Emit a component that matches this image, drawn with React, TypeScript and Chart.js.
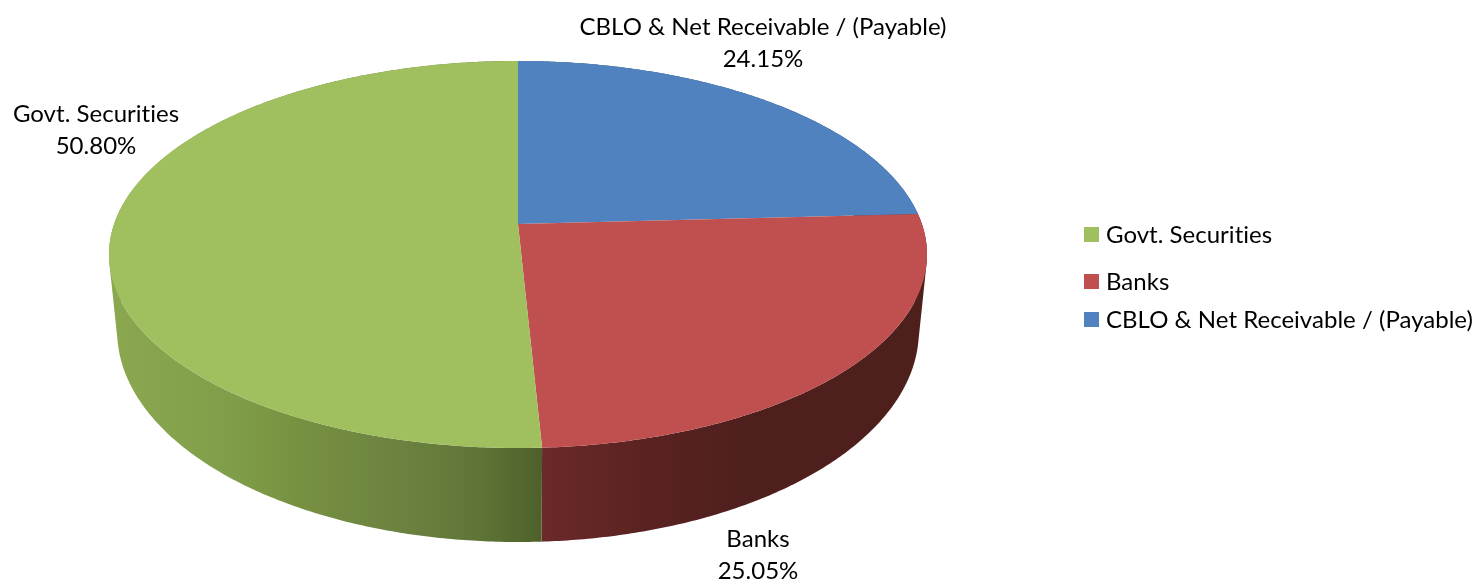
import React, { useEffect, useRef } from "react";
import { Chart, registerables } from "chart.js";

Chart.register(...registerables);

// Slices run clockwise from twelve o'clock; the legend lists them in reverse.
const categories = ["CBLO & Net Receivable / (Payable)", "Banks", "Govt. Securities"];
const shares = [24.15, 25.05, 50.8];
const topColors = ["#5082C0", "#C0504F", "#A0BF5E"];
const wallStops = [
  [[0, "#2f4d72"], [1, "#2f4d72"]],
  [[0.527, "#6C2A29"], [0.65, "#5A2322"], [0.79, "#4E1F1D"], [1, "#4E201C"]],
  [[0, "#8BA850"], [0.148, "#809E49"], [0.233, "#779141"], [0.356, "#6B8240"], [0.453, "#5E7536"], [0.527, "#4F612B"]],
];

// Where each slice caption and legend row sits, in the order of categories.
const captionCentres = [[763, 27], [758, 539], [96, 114]];
const legendRows = [320, 282, 235];

const FONT = '24px Lato, "Noto Sans", sans-serif';
const TILT = 0.1576; // perspective strength of the disc
const STRETCH_X = 2.478;
const STRETCH_Y = 1.1577;
const BASE_SCALE_X = 0.98;
const BASE_SCALE_Y = 1.0904;
const BASE_DROP = 73.75;
const STEP = Math.PI / 360;

type Pt = [number, number];

function rim(arc: any, angle: number): Pt {
  const d = 1 - TILT * Math.sin(angle);
  return [
    arc.x + (arc.outerRadius * STRETCH_X * Math.cos(angle)) / d,
    arc.y + (arc.outerRadius * STRETCH_Y * Math.sin(angle)) / d,
  ];
}

function baseRim(arc: any, angle: number): Pt {
  const [x, y] = rim(arc, angle);
  return [arc.x + (x - arc.x) * BASE_SCALE_X, arc.y + BASE_DROP + (y - arc.y) * BASE_SCALE_Y];
}

function sweep(arc: any): number[] {
  const out: number[] = [];
  for (let a = arc.startAngle; a < arc.endAngle; a += STEP) out.push(a);
  out.push(arc.endAngle);
  return out;
}

function signedArea(q: Pt[]): number {
  return q.reduce((sum, p, i) => {
    const n = q[(i + 1) % q.length];
    return sum + p[0] * n[1] - n[0] * p[1];
  }, 0);
}

// Paints the pie as a tilted, extruded disc from the arcs Chart.js has laid out.
const tiltedDisc = {
  id: "tiltedDisc",
  beforeDatasetDraw(chart: any) {
    const { ctx, chartArea } = chart;
    const arcs = chart.getDatasetMeta(0).data;

    arcs.forEach((arc: any, i: number) => {
      const angles = sweep(arc);
      const grad = ctx.createLinearGradient(chartArea.left, 0, chartArea.right, 0);
      wallStops[i].forEach(([p, c]: any) => grad.addColorStop(p, c));
      // The wall is one path of small quads wound the same way, so the fold at
      // the disc's left and right silhouette stays filled.
      ctx.beginPath();
      for (let n = 0; n + 1 < angles.length; n++) {
        const quad: Pt[] = [rim(arc, angles[n]), rim(arc, angles[n + 1]), baseRim(arc, angles[n + 1]), baseRim(arc, angles[n])];
        if (signedArea(quad) < 0) quad.reverse();
        quad.forEach(([x, y], k) => (k ? ctx.lineTo(x, y) : ctx.moveTo(x, y)));
        ctx.closePath();
      }
      ctx.fillStyle = grad;
      ctx.fill();
    });

    arcs.forEach((arc: any) => {
      ctx.beginPath();
      ctx.moveTo(arc.x, arc.y);
      sweep(arc).forEach((a) => {
        const [x, y] = rim(arc, a);
        ctx.lineTo(x, y);
      });
      ctx.closePath();
      ctx.fillStyle = arc.options.backgroundColor;
      ctx.fill();
    });
    return false;
  },
  afterDraw(chart: any) {
    const { ctx } = chart;
    const labels: string[] = chart.data.labels;
    const values: number[] = chart.data.datasets[0].data;
    ctx.save();
    ctx.font = FONT;
    ctx.letterSpacing = "0.02px"; // keeps "ti" as two separate glyphs
    ctx.fillStyle = "#000";
    ctx.textBaseline = "middle";

    ctx.textAlign = "center";
    labels.forEach((label, i) => {
      const [cx, cy] = captionCentres[i];
      ctx.fillText(label, cx, cy);
      ctx.fillText(`${values[i].toFixed(2)}%`, cx, cy + 32);
    });

    ctx.textAlign = "left";
    labels.forEach((label, i) => {
      const row = legendRows[i];
      ctx.fillStyle = topColors[i];
      ctx.fillRect(1084, row - 8, 15, 15);
      ctx.fillStyle = "#000";
      ctx.fillText(label, 1106, row);
    });
    ctx.restore();
  },
};

export default function App() {
  const ref = useRef<HTMLCanvasElement>(null);

  useEffect(() => {
    const chart = new Chart(ref.current!, {
      type: "pie",
      data: {
        labels: categories,
        datasets: [{ data: shares, backgroundColor: topColors, borderWidth: 0 }],
      },
      options: {
        responsive: false,
        animation: false,
        layout: { padding: { left: 109, right: 548, top: 61, bottom: 193 } },
        plugins: { legend: { display: false }, tooltip: { enabled: false } },
      },
      plugins: [tiltedDisc],
    });
    return () => chart.destroy();
  }, []);

  return (
    <div style={{ position: "absolute", left: 0, top: 0, width: 1475, height: 580, background: "#fff" }}>
      <canvas ref={ref} width={1475} height={580} style={{ display: "block" }} />
    </div>
  );
}
